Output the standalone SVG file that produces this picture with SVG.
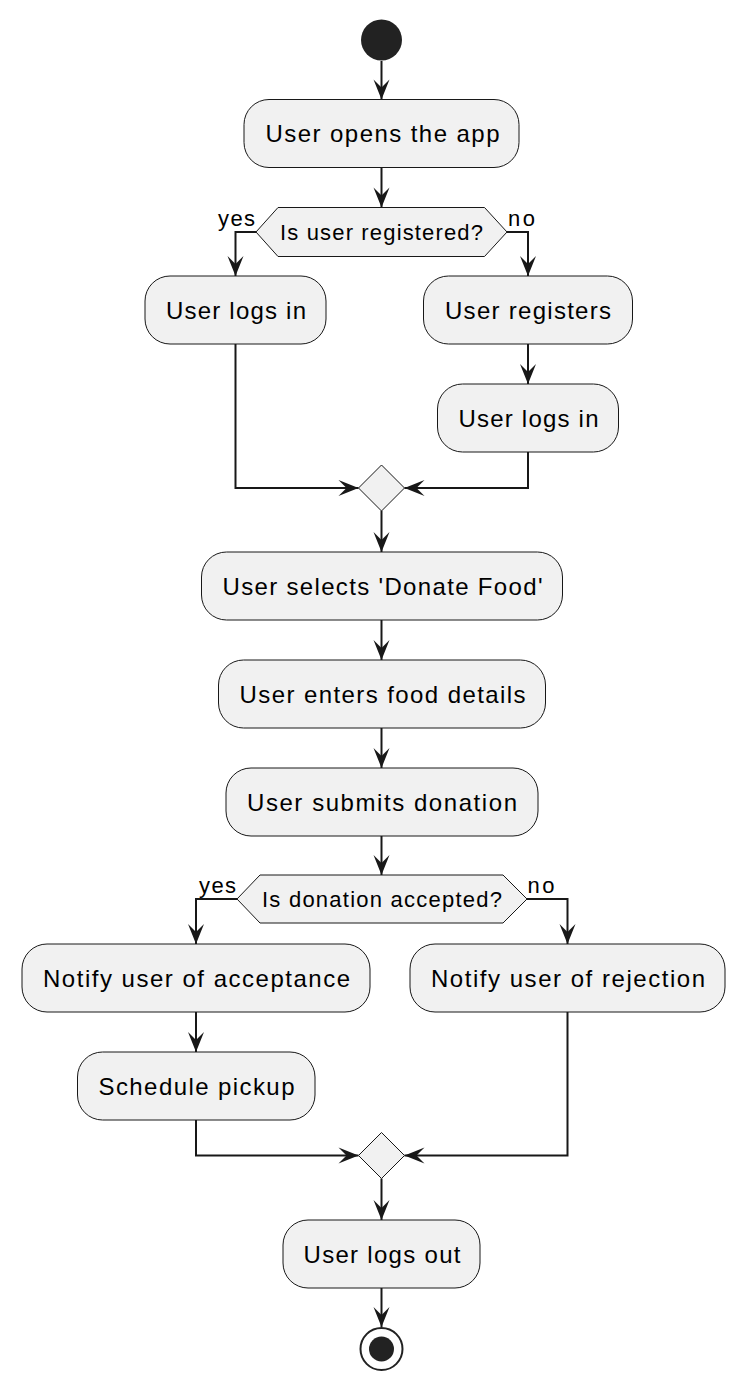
<svg xmlns="http://www.w3.org/2000/svg" width="746" height="1392" viewBox="0 0 746 1392">
<defs>
<style>
.act{fill:#F1F1F1;stroke:#181818;stroke-width:1}
.dec{fill:#F1F1F1;stroke:#181818;stroke-width:1}
.t{font-family:"Liberation Sans",Arial,sans-serif;font-size:24px;fill:#000000}
.td{font-family:"Liberation Sans",Arial,sans-serif;font-size:22px;fill:#000000}
.edge{fill:none;stroke:#181818;stroke-width:2}
</style>
<marker id="arr" markerUnits="userSpaceOnUse" viewBox="-21 -9 22 18" markerWidth="22" markerHeight="18" refX="0" refY="0" orient="auto">
<path d="M0,0 L-20,-8 L-12,0 L-20,8 Z" fill="#181818"/>
</marker>
</defs>
<rect width="746" height="1392" fill="#FFFFFF"/>
<g id="connectors">
<path class="edge" marker-end="url(#arr)" d="M381.5,61 V99.5"/>
<path class="edge" marker-end="url(#arr)" d="M381.5,167.5 V207.5"/>
<path class="edge" marker-end="url(#arr)" d="M256,232 H235.5 V276"/>
<path class="edge" marker-end="url(#arr)" d="M507,232 H528 V276"/>
<path class="edge" marker-end="url(#arr)" d="M235.5,344 V488 H358.5"/>
<path class="edge" marker-end="url(#arr)" d="M528,344 V384"/>
<path class="edge" marker-end="url(#arr)" d="M528,452 V488 H404.5"/>
<path class="edge" marker-end="url(#arr)" d="M381.5,511 V552"/>
<path class="edge" marker-end="url(#arr)" d="M381.5,620 V660"/>
<path class="edge" marker-end="url(#arr)" d="M381.5,728 V768"/>
<path class="edge" marker-end="url(#arr)" d="M381.5,836 V875"/>
<path class="edge" marker-end="url(#arr)" d="M237,899 H196 V944"/>
<path class="edge" marker-end="url(#arr)" d="M527,899 H567.5 V944"/>
<path class="edge" marker-end="url(#arr)" d="M196,1012 V1052"/>
<path class="edge" marker-end="url(#arr)" d="M196,1120 V1155.5 H358.5"/>
<path class="edge" marker-end="url(#arr)" d="M567.5,1012 V1155.5 H404.5"/>
<path class="edge" marker-end="url(#arr)" d="M381.5,1178.5 V1220"/>
<path class="edge" marker-end="url(#arr)" d="M381.5,1288 V1327"/>
<text class="td" x="218" y="226" textLength="37" lengthAdjust="spacing">yes</text>
<text class="td" x="508" y="226" textLength="27" lengthAdjust="spacing">no</text>
<text class="td" x="199" y="893" textLength="37" lengthAdjust="spacing">yes</text>
<text class="td" x="527.5" y="893" textLength="27" lengthAdjust="spacing">no</text>
</g>
<g id="start"><circle cx="381.5" cy="40" r="20.5" fill="#222222"/></g>
<g id="n1"><rect class="act" x="244" y="99.5" width="275" height="68" rx="25" ry="25"/><text class="t" x="265.5" y="142" textLength="234" lengthAdjust="spacing">User opens the app</text></g>
<g id="d1"><polygon class="dec" points="256,232 278,207.5 484.5,207.5 507,232 484.5,256.5 278,256.5"/><text class="td" x="280" y="240" textLength="203" lengthAdjust="spacing">Is user registered?</text></g>
<g id="n2"><rect class="act" x="145" y="276" width="181" height="68" rx="25" ry="25"/><text class="t" x="166" y="318.5" textLength="140" lengthAdjust="spacing">User logs in</text></g>
<g id="n3"><rect class="act" x="423.5" y="276" width="209" height="68" rx="25" ry="25"/><text class="t" x="445" y="318.5" textLength="166" lengthAdjust="spacing">User registers</text></g>
<g id="n4"><rect class="act" x="437.5" y="384" width="181" height="68" rx="25" ry="25"/><text class="t" x="458.5" y="426.5" textLength="140" lengthAdjust="spacing">User logs in</text></g>
<g id="m1"><polygon class="dec" points="381.5,465 404.5,488 381.5,511 358.5,488"/></g>
<g id="n5"><rect class="act" x="201.5" y="552" width="361" height="68" rx="25" ry="25"/><text class="t" x="222.5" y="594.5" textLength="320" lengthAdjust="spacing">User selects 'Donate Food'</text></g>
<g id="n6"><rect class="act" x="218.5" y="660" width="327" height="68" rx="25" ry="25"/><text class="t" x="239.5" y="702.5" textLength="286" lengthAdjust="spacing">User enters food details</text></g>
<g id="n7"><rect class="act" x="226" y="768" width="312" height="68" rx="25" ry="25"/><text class="t" x="247" y="810.5" textLength="270" lengthAdjust="spacing">User submits donation</text></g>
<g id="d2"><polygon class="dec" points="237,899 260,875 503,875 527,899 503,923 260,923"/><text class="td" x="262" y="907" textLength="240" lengthAdjust="spacing">Is donation accepted?</text></g>
<g id="n8"><rect class="act" x="22" y="944" width="348" height="68" rx="25" ry="25"/><text class="t" x="43" y="986.5" textLength="307" lengthAdjust="spacing">Notify user of acceptance</text></g>
<g id="n9"><rect class="act" x="410" y="944" width="315" height="68" rx="25" ry="25"/><text class="t" x="431" y="986.5" textLength="274" lengthAdjust="spacing">Notify user of rejection</text></g>
<g id="n10"><rect class="act" x="77.5" y="1052" width="237.5" height="68" rx="25" ry="25"/><text class="t" x="98.5" y="1094.5" textLength="196" lengthAdjust="spacing">Schedule pickup</text></g>
<g id="m2"><polygon class="dec" points="381.5,1132.5 404.5,1155.5 381.5,1178.5 358.5,1155.5"/></g>
<g id="n11"><rect class="act" x="283" y="1220" width="197" height="68" rx="25" ry="25"/><text class="t" x="303.5" y="1262.5" textLength="157" lengthAdjust="spacing">User logs out</text></g>
<g id="end"><circle cx="381.5" cy="1349" r="21" fill="none" stroke="#222222" stroke-width="2"/><circle cx="381.5" cy="1349" r="12.5" fill="#222222"/></g>
</svg>
